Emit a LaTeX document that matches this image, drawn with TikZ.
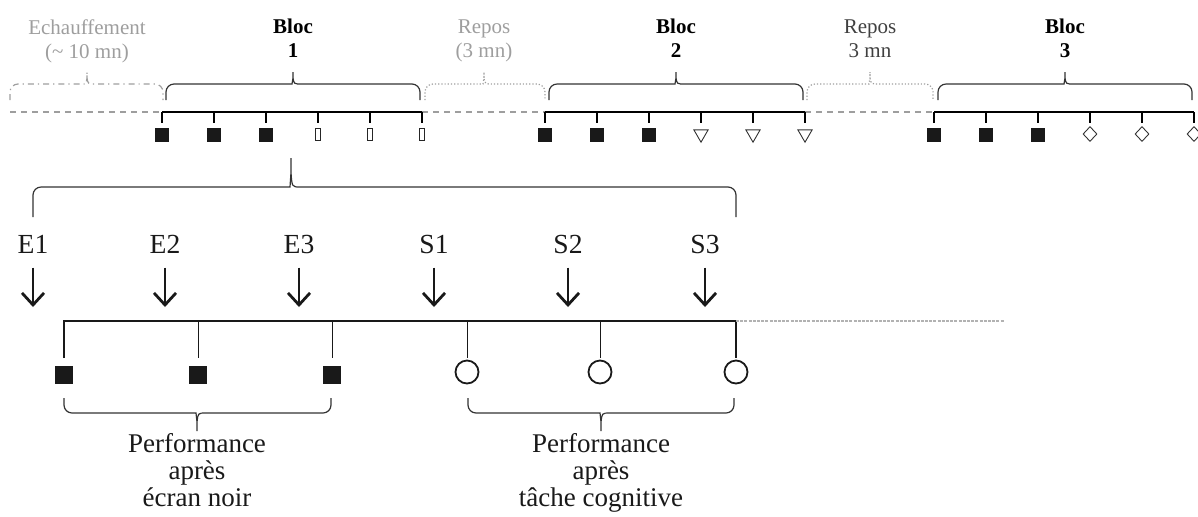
\documentclass[tikz,border=0pt]{standalone}
\usepackage{fontspec}
\setmainfont{Liberation Serif}
\usetikzlibrary{arrows.meta,shapes.geometric}

\definecolor{gris}{gray}{0.62}
\definecolor{grisclair}{gray}{0.7}

% accolade : [style]{x gauche}{x droite}{x pointe}{y bouts}{y milieu}{y pointe}
\newcommand{\accolade}[7][]{%
  \draw[rounded corners=4pt,#1] (#2,#5) -- (#2,#6) -- ({#4-9},#6) [sharp corners]
    .. controls ({#4-1},#6) .. (#4,{#6+0.5*(#7-#6)}) -- (#4,#7) -- (#4,{#6+0.5*(#7-#6)})
    .. controls ({#4+1},#6) .. ({#4+9},#6) [rounded corners=4pt] -- (#3,#6) -- (#3,#5);}

\tikzset{
  haut/.style={font=\fontsize{10.5}{12}\selectfont, align=center, inner sep=0pt, anchor=north},
  etiq/.style={font=\fontsize{13.8}{14}\selectfont, inner sep=0pt, text=black!90},
  bas/.style={font=\fontsize{13.5}{13.6}\selectfont, align=center, inner sep=0pt, anchor=north, text=black!90},
  fleche/.style={-{Straight Barb[length=6pt,width=11pt]}, line width=1.4pt, shorten <=7pt, black!90},
  trait/.style={line width=0.6pt, black!80},
  pointille/.style={line width=0.6pt, gris, dash pattern=on 3pt off 2.5pt},
  fin/.style={line width=0.5pt, black!90},
  axe/.style={line width=1pt, black!90},
  carre/.style={fill=black!90, minimum size=7pt, inner sep=0pt},
  gcarre/.style={fill=black!90, minimum size=9pt, inner sep=0pt},
  barre/.style={draw=black!85, line width=0.45pt, minimum width=2.5pt, minimum height=6pt, inner sep=0pt},
  tri/.style={draw=black!80, line width=0.45pt, regular polygon, regular polygon sides=3,
    shape border rotate=180, minimum size=8.2pt, inner sep=0pt},
  losange/.style={draw=black!80, line width=0.45pt, diamond, minimum width=7pt, minimum height=7.5pt, inner sep=0pt},
  rond/.style={draw=black!90, line width=0.9pt, circle, minimum size=11.5pt, inner sep=0pt}
}

\begin{document}
\begin{tikzpicture}[x={(0.5pt,0)}, y={(0,-0.5pt)}]
\useasboundingbox (0,0) rectangle (1198,516);

% ligne du temps generale
\draw[pointille] (10,112) -- (162,112);
\draw[pointille] (422,112) -- (545,112);
\draw[pointille] (805,112) -- (934,112);

% echauffement et repos
\accolade[gris, line width=0.6pt, dash dot]{10}{163}{87}{100}{84}{72}
\node[haut, text=gris] (echauf) at (87,19) {Echauffement\\(\textasciitilde\ 10 mn)};
\accolade[gris, line width=0.6pt, densely dotted]{425}{545}{484}{100}{84}{72}
\node[haut, text=gris] (repos1) at (484,19) {Repos\\(3 mn)};
\accolade[gris, line width=0.6pt, densely dotted]{807}{933}{870}{100}{84}{72}
\node[haut, text=black!75] (repos2) at (870,19) {Repos\\3 mn};

% blocs
\foreach \b/\x/\forme in {1/162/barre, 2/545/tri, 3/934/losange} {
  \accolade[trait]{\x+4}{\x+258}{\x+131}{100}{84}{72}
  \node[haut] (bloc\b) at ({\x+131},19) {\textbf{Bloc}\\\textbf{\b}};
  \draw[line width=0.75pt] (\x,112) -- ({\x+260},112);
  \foreach \k in {0,...,5}
    \draw[line width=0.75pt] ({\x+52*\k},112) -- ({\x+52*\k},123);
  \foreach \k in {0,1,2}
    \node[carre] (b\b m\k) at ({\x+52*\k},135) {};
  \foreach \k in {3,4,5}
    \node[\forme] (b\b m\k) at ({\x+52*\k},134) {};
}

% zoom sur le bloc 1
\accolade[trait]{33}{736}{291}{217}{187}{158}

\foreach \n/\x in {E1/33, E2/165, E3/299, S1/434, S2/568, S3/705} {
  \node[etiq] (\n) at (\x,244) {\n};
  \coordinate (p\n) at (\x,307);
  \draw[fleche] (\n) -- (p\n);
}

\draw[axe] (64,358) -- (64,321) -- (736,321) -- (736,358);
\draw[grisclair, line width=0.7pt, dash pattern=on 1.5pt off 0.6pt] (736,321) -- (1004,321);
\foreach \x in {198,332,467,600}
  \draw[fin] (\x,321) -- (\x,358);

\foreach \n/\x in {1/64, 2/198, 3/332}
  \node[gcarre] (ec\n) at (\x,375) {};
\foreach \n/\x in {1/467, 2/600, 3/736}
  \node[rond] (tc\n) at (\x,372) {};

% performances
\accolade[trait]{64}{331}{197}{398}{413}{431}
\node[bas] (perfnoir) at (197,433) {Performance\\après\\écran noir};
\accolade[trait]{468}{734}{601}{398}{413}{431}
\node[bas] (perfcog) at (601,433) {Performance\\après\\tâche cognitive};
\end{tikzpicture}
\end{document}
